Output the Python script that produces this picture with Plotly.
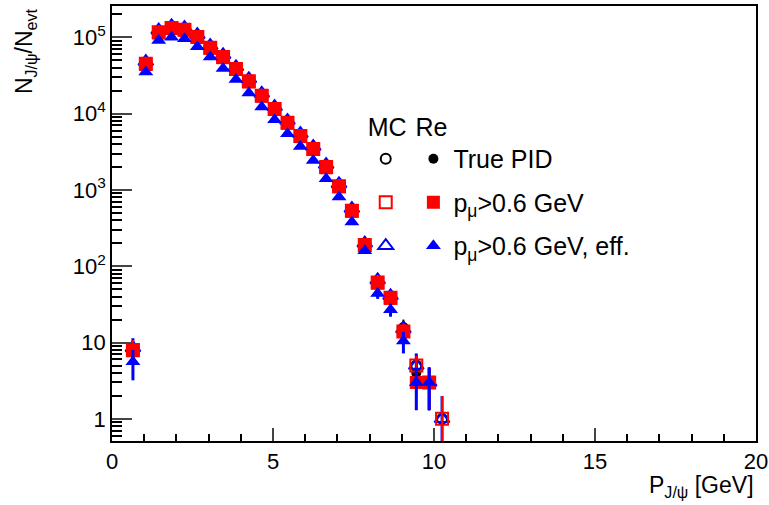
import plotly.graph_objects as go

# ---- data ----
p_centers = [0.65, 1.05, 1.45, 1.85, 2.25, 2.65, 3.05, 3.45, 3.85, 4.25, 4.65, 5.05, 5.45,
             5.85, 6.25, 6.65, 7.05, 7.45, 7.85, 8.25, 8.65, 9.05, 9.45, 9.85, 10.25]

mc_true = [8, 45000, 116000, 132000, 126000, 101000, 73000, 55000, 38500, 26500, 17200, 11500, 7600,
           5100, 3450, 2000, 1120, 535, 190, 62, 39, 15, 5, 3, 1]
re_true = [8, 45000, 116000, 132000, 126000, 101000, 73000, 55000, 38500, 26500, 17200, 11500, 7600,
           5100, 3450, 2000, 1120, 535, 192, 62, 39, 16, 4, 3, None]
mc_pmu = [8, 45000, 116000, 132000, 126000, 101000, 73000, 55000, 38500, 26500, 17200, 11500, 7600,
          5100, 3450, 2000, 1120, 535, 190, 61, 38.5, 14, 5, 3, 1]
re_pmu = [7.8, 44000, 114000, 130000, 124000, 100000, 72000, 54000, 38000, 26000, 17000, 11300, 7500,
          5000, 3400, 1950, 1100, 525, 186, 60, 38, 14, 3, 3, None]
mc_eff = [8.5, 48000, 124000, 141000, 134000, 108000, 78000, 59000, 41000, 28500, 18400, 12300, 8100,
          5450, 3700, 2150, 1200, 570, 200, 66, 41, 15, 5, 3, 1]
re_eff = [5.6, 35000, 91000, 100000, 96000, 75000, 55000, 39000, 28000, 18600, 12200, 8300, 5450,
          3700, 2430, 1400, 810, 380, 160, 44, 27, 10.5, 3, 3, None]

err_true = [2.8, 212, 340, 363, 355, 318, 270, 234, 196, 163, 131, 107, 87,
            71, 59, 45, 33, 23, 14, 7.9, 6.2, 4.0, 2.0, 1.7, 1.0]
err_pmu = [2.8, 210, 338, 361, 352, 316, 268, 232, 195, 161, 130, 106, 87,
           71, 58, 44, 33, 23, 13.7, 7.8, 6.2, 3.7, 1.7, 1.7, 1.0]
err_mc_eff = [2.9, 219, 352, 375, 366, 329, 279, 243, 202, 169, 136, 111, 90,
              74, 61, 46, 35, 24, 14, 8.1, 6.4, 3.9, 2.2, 1.7, 0.99]
err_re_eff = [2.4, 187, 302, 316, 310, 274, 235, 197, 167, 136, 110, 91, 74,
              61, 49, 37, 28, 19.5, 12.6, 6.6, 5.2, 3.3, 1.7, 1.7, None]

y_tickvals = [1, 10, 100, 1000, 10000, 100000]
y_ticktext = ["1", "10", "10<sup>2</sup>", "10<sup>3</sup>", "10<sup>4</sup>", "10<sup>5</sup>"]
x_tickvals = [0, 5, 10, 15, 20]

FONT = "Liberation Sans, Arial, Helvetica, sans-serif"
RED = "#ff0000"
BLUE = "#0000ff"

fig = go.Figure()


def add(y, err, name, symbol, color, size, legend, rank, group, ewidth):
    fig.add_trace(go.Scatter(
        x=p_centers, y=y, mode="markers", name=name,
        marker=dict(symbol=symbol, color=color, size=size,
                    line=dict(color=color, width=2 if "open" in symbol else 0)),
        error_y=dict(type="data", array=err, color=color, thickness=ewidth, width=0),
        legend=legend, legendrank=rank, legendgroup=group,
    ))


add(re_true, err_true, "True PID", "circle", "black", 10, "legend2", 1, "g4", 2)
add(mc_true, err_true, "", "circle-open", "black", 10, "legend", 1, "g1", 2)
add(mc_eff, err_mc_eff, "", "triangle-up-open", BLUE, 13, "legend", 3, "g3", 3)
add(mc_pmu, err_pmu, "", "square-open", RED, 12, "legend", 2, "g2", 2)
add(re_pmu, err_pmu, "p<sub>μ</sub>>0.6 GeV", "square", RED, 13, "legend2", 2, "g5", 2)
add(re_eff, err_re_eff, "p<sub>μ</sub>>0.6 GeV, eff.", "triangle-up", BLUE, 13, "legend2", 3, "g6", 3)

legend_common = dict(
    bgcolor="rgba(0,0,0,0)", borderwidth=0, font=dict(family=FONT, size=25, color="black"),
    tracegroupgap=8, itemsizing="trace", yanchor="top", xanchor="left",
    itemclick=False, itemdoubleclick=False,
)

fig.update_layout(
    width=769, height=505,
    margin=dict(l=112, r=13, t=6, b=64, autoexpand=False),
    paper_bgcolor="white", plot_bgcolor="white",
    font=dict(family=FONT, size=22, color="black"),
    showlegend=True,
    legend=dict(x=0.394, y=0.776, title=dict(text="MC", font=dict(family=FONT, size=25)), **legend_common),
    legend2=dict(x=0.468, y=0.776, title=dict(text="Re", font=dict(family=FONT, size=25)), **legend_common),
    xaxis=dict(
        range=[0, 20], tickvals=x_tickvals, ticks="inside", ticklen=13, tickwidth=1.5,
        showline=True, linecolor="black", linewidth=1.5, mirror=True, showgrid=False, zeroline=False,
        tickfont=dict(family=FONT, size=22), automargin=False,
        minor=dict(ticks="inside", dtick=1, ticklen=7, tickwidth=1.5, tickcolor="black", showgrid=False),
    ),
    yaxis=dict(
        type="log", range=[-0.29, 5.41], tickvals=y_tickvals, ticktext=y_ticktext,
        ticks="inside", ticklen=20, tickwidth=1.5,
        showline=True, linecolor="black", linewidth=1.5, mirror=True, showgrid=False, zeroline=False,
        tickfont=dict(family=FONT, size=22), automargin=False,
        minor=dict(ticks="inside", dtick="D1", ticklen=10, tickwidth=1.5, tickcolor="black", showgrid=False),
    ),
    annotations=[
        dict(text="P<sub>J/ψ</sub> [GeV]", xref="paper", yref="paper", x=1.0, y=-0.105,
             xanchor="right", yanchor="middle", showarrow=False, font=dict(family=FONT, size=23)),
        dict(text="N<sub>J/ψ</sub>/N<sub>evt</sub>", xref="paper", yref="paper", x=-0.135, y=1.0,
             xanchor="center", yanchor="top", textangle=-90, showarrow=False,
             font=dict(family=FONT, size=23)),
    ],
)

fig.write_html("out.html", config={"displayModeBar": False},
               post_script="document.body.style.margin='0px';")
